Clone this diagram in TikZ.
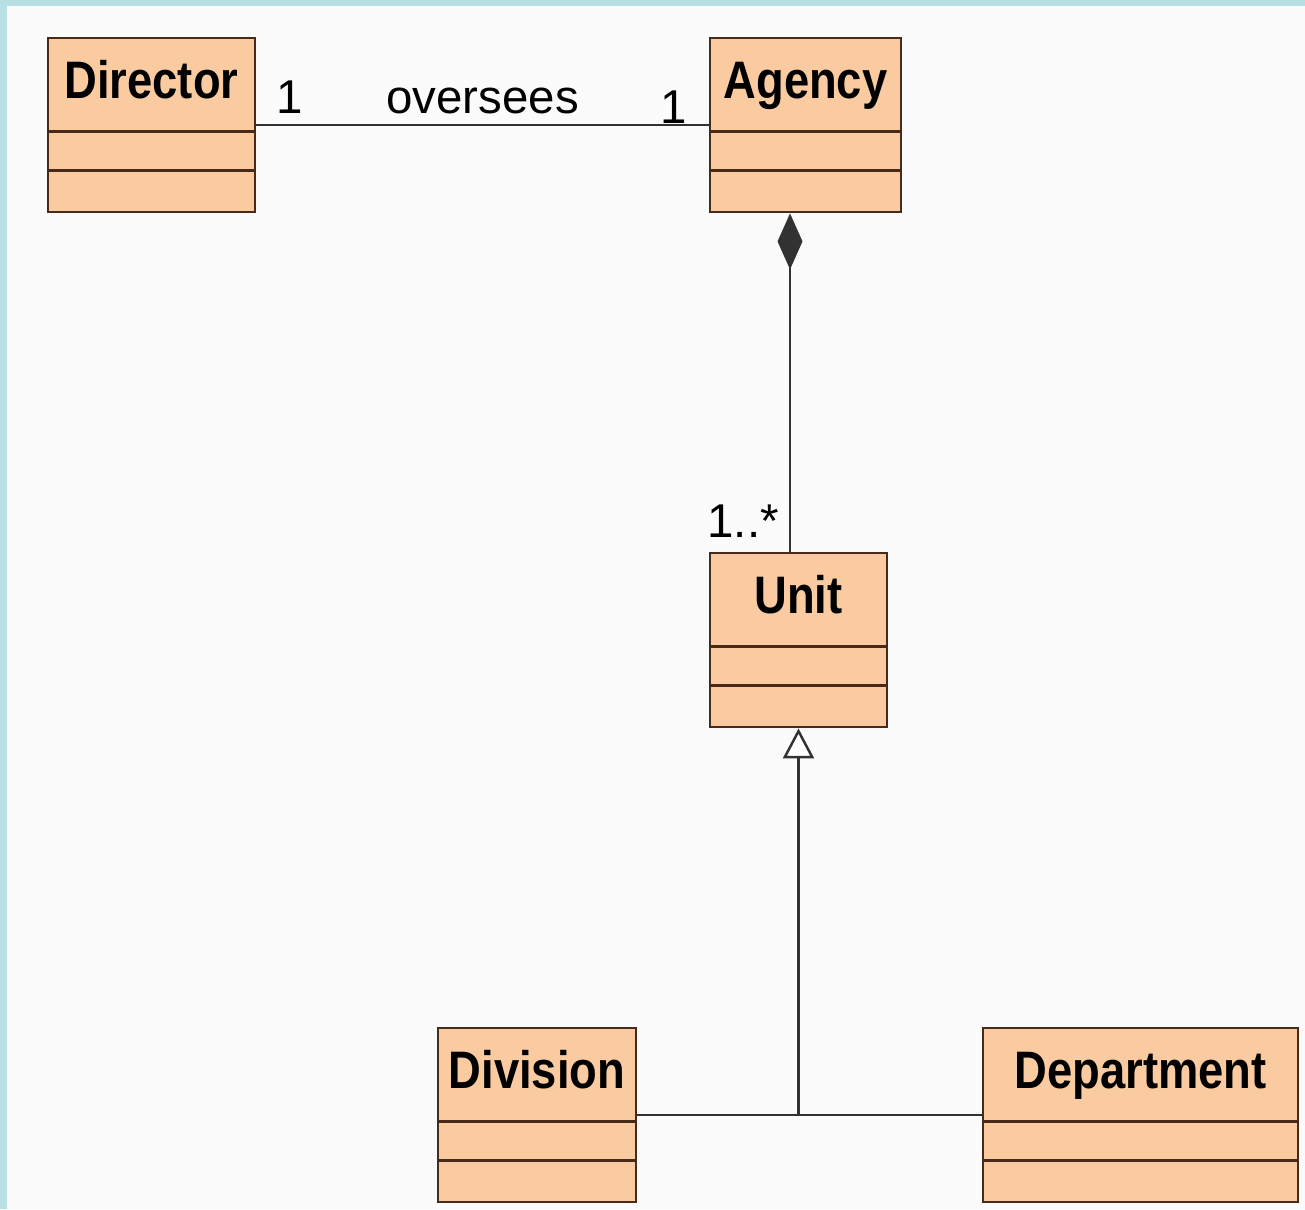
\documentclass[tikz,border=0pt]{standalone}
\usepackage{fontspec}
\setmainfont{Liberation Sans}
\newfontfamily\namefont{Liberation Sans}[FakeStretch=0.86]
\usetikzlibrary{arrows.meta,positioning}
\definecolor{UmlFill}{RGB}{250,202,160}
\definecolor{UmlEdge}{RGB}{72,42,26}
\definecolor{UmlLine}{RGB}{50,50,50}
\definecolor{UmlFrame}{RGB}{184,223,227}
\definecolor{UmlPaper}{RGB}{251,251,251}

\begin{document}
\begin{tikzpicture}[>=Stealth]
    \tikzset{umlclass/.style={draw=UmlEdge,fill=UmlFill,line width=1.6pt,minimum height=3.48cm,inner ysep=0.44cm,text height=0.76cm,text depth=1.84cm,font=\namefont\bfseries\fontsize{30}{34}\selectfont},
      mult/.style={font=\fontsize{27}{30}\selectfont,text=black,inner sep=0pt},
      assoc/.style={draw=UmlLine,line width=1.4pt}}
    % frame and paper
    \fill[UmlFrame] (0,0) rectangle (26.1,-24.18);
    \fill[UmlPaper] (0.14,-0.12) rectangle (26.1,-24.18);
    \useasboundingbox (0,0) rectangle (26.1,-24.18);
    % classes
    \node[umlclass,minimum width=4.14cm] (director) at (3.03,-2.5) {Director};
    \node[umlclass,minimum width=3.82cm] (agency) at (16.11,-2.5) {Agency};
    \node[umlclass,minimum width=3.54cm] (unit) at (15.97,-12.8) {Unit};
    \node[umlclass,minimum width=3.96cm] (division) at (10.74,-22.3) {Division};
    \node[umlclass,minimum width=6.30cm] (department) at (22.81,-22.3) {Department};
    \foreach \c in {director,agency,unit,division,department}
      \foreach \d in {1.9,2.68}
        \draw[UmlEdge,line width=1.4pt] ([yshift=-\d cm]\c.north west) -- ([yshift=-\d cm]\c.north east);
    % association
    \draw[assoc] (director) -- node[mult,above=0.2cm] {oversees} (agency);
    \node[mult,above right=0.22cm and 0.4cm of director.east] (dirmult) {1};
    \node[mult,above left=0.02cm and 0.42cm of agency.west] (agmult) {1};
    % composition
    \coordinate (comp) at (15.8,0);
    \draw[assoc,{Diamond[length=1.12cm,width=0.5cm]}-] (agency.south -| comp) -- (unit.north -| comp)
      node[mult,above left=0.26cm and 0.2cm] (unitmult) {1..*};
    % generalization
    \coordinate (fork) at (division.east -| unit.south);
    \draw[assoc] (division) -- (department);
    \draw[assoc,-{Triangle[length=0.6cm,width=0.62cm,fill=white]}] (fork) -- (unit.south);
  \end{tikzpicture}
\end{document}
